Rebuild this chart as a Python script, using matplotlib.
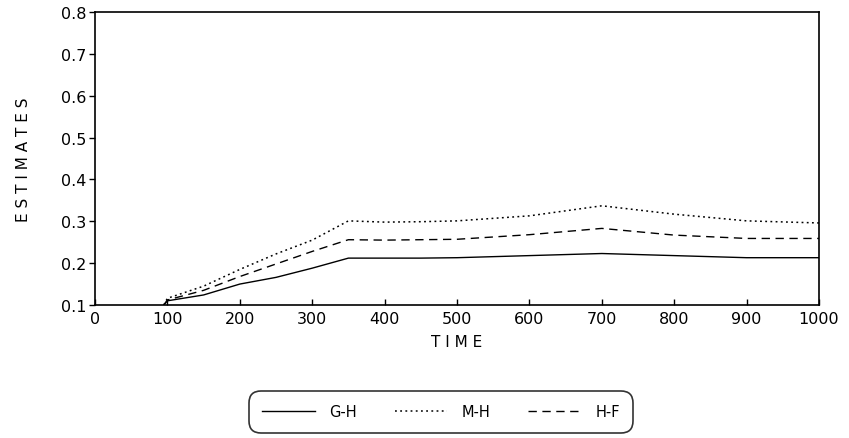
import matplotlib
matplotlib.use("Agg")
import matplotlib.pyplot as plt

time = [95, 100, 150, 200, 250, 300, 350, 400, 450, 500, 600, 700, 800, 900, 1000]
gh = [0.100, 0.110, 0.124, 0.150, 0.166, 0.188, 0.212, 0.212, 0.212, 0.213, 0.218, 0.223, 0.218, 0.213, 0.213]
mh = [0.100, 0.116, 0.145, 0.185, 0.222, 0.255, 0.301, 0.298, 0.299, 0.301, 0.313, 0.337, 0.317, 0.301, 0.296]
hf = [0.100, 0.112, 0.135, 0.168, 0.198, 0.228, 0.256, 0.255, 0.256, 0.257, 0.268, 0.283, 0.267, 0.259, 0.259]
xticks = list(range(0, 1001, 100))
yticks = [0.1, 0.2, 0.3, 0.4, 0.5, 0.6, 0.7, 0.8]

plt.rcParams['font.family'] = ['DejaVu Sans']
fig = plt.figure(figsize=(8.49, 4.39), dpi=100)
ax = fig.add_axes([95/849, 1-306/439, (819-95)/849, (306-13)/439])

ax.plot(time, gh, color='black', lw=1.0, ls='-', label='G-H')
ax.plot(time, mh, color='black', lw=1.1, ls=(0, (1.2, 2.2)), label='M-H')
ax.plot(time, hf, color='black', lw=1.0, ls=(0, (6, 4)), label='H-F')

ax.set_xlim(0, 1000)
ax.set_ylim(0.1, 0.8)
ax.set_xticks(xticks)
ax.set_yticks(yticks)
ax.set_xticklabels([str(t) for t in xticks])
ax.set_yticklabels([f"{v:.1f}" for v in yticks])
ax.tick_params(axis='x', direction='in', length=4, width=1, labelsize=11.5, pad=4)
ax.tick_params(axis='y', direction='out', length=4, width=1, labelsize=11.5, pad=2)
for s in ax.spines.values():
    s.set_linewidth(1.2)

ax.set_xlabel('T I M E', fontsize=11, labelpad=6)
ax.set_ylabel('E S T I M A T E S', fontsize=11, labelpad=22)

leg = fig.legend(loc='center', bbox_to_anchor=(441/849, 1-413/439), ncol=3,
                 frameon=True, fancybox=True, edgecolor='black', fontsize=10.5,
                 handlelength=3.6, handletextpad=1.0, columnspacing=2.6,
                 borderpad=0.9, borderaxespad=0)
leg.get_frame().set_linewidth(1.2)
leg.get_frame().set_boxstyle('round', pad=0, rounding_size=0.8)

fig.savefig('out.png', dpi=100)
